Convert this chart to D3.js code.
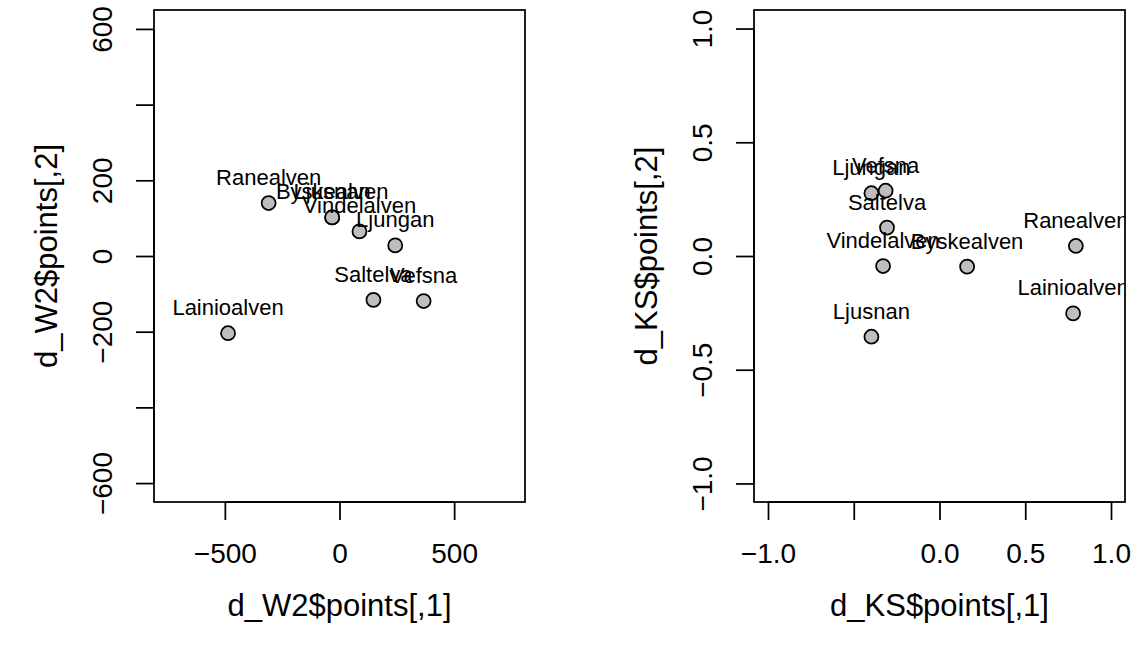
<!DOCTYPE html>
<html>
<head>
<meta charset="utf-8">
<script src="https://cdn.jsdelivr.net/npm/d3@7"></script>
<style>
  html, body { margin: 0; padding: 0; background: #fff; }
  svg { display: block; }
  text { font-family: "Liberation Sans", Arial, Helvetica, sans-serif; fill: #000; }
</style>
</head>
<body>
<svg id="chart" width="1144" height="655"></svg>
<script>
// ---- Data ----
const rivers = ["Ranealven", "Byskealven", "Ljusnan", "Vindelalven", "Ljungan", "Saltelva", "Vefsna", "Lainioalven"];
const w2X = [-309, -32, -32, 87, 243, 148, 367, -486];
const w2Y = [140, 102, 102, 65, 28, -116, -119, -204];
const ksX = [0.795, 0.161, -0.397, -0.329, -0.397, -0.306, -0.314, 0.779];
const ksY = [0.044, -0.047, -0.355, -0.044, 0.276, 0.125, 0.287, -0.252];

const w2XTicks = [-500, 0, 500];
const w2XTickLabels = ["\u2212500", "0", "500"];
const w2YTicks = [600, 400, 200, 0, -200, -400, -600];
const w2YTickLabels = ["600", "", "200", "0", "\u2212200", "", "\u2212600"];
const ksXTicks = [-1.0, -0.5, 0.0, 0.5, 1.0];
const ksXTickLabels = ["\u22121.0", "", "0.0", "0.5", "1.0"];
const ksYTicks = [1.0, 0.5, 0.0, -0.5, -1.0];
const ksYTickLabels = ["1.0", "0.5", "0.0", "\u22120.5", "\u22121.0"];

const svg = d3.select("#chart");

const LW = 1.75;
const TICK = 18;

function panel(opts) {
  const { left, right, top, bottom, xDom, yDom, xs, ys, names,
          xTicks, xTickLabels, yTicks, yTickLabels, xTitle, yTitle, id } = opts;
  const x = d3.scaleLinear().domain(xDom).range([left, right]);
  const y = d3.scaleLinear().domain(yDom).range([bottom, top]);
  const g = svg.append("g");

  svg.append("clipPath").attr("id", "clip" + id)
    .append("rect").attr("x", left).attr("y", top)
    .attr("width", right - left).attr("height", bottom - top);

  // x axis
  const xAxis = d3.axisBottom(x).tickValues(xTicks).tickSize(TICK)
    .tickFormat((d, i) => xTickLabels[i]);
  const gx = g.append("g").attr("transform", `translate(0,${bottom})`).call(xAxis);
  gx.select(".domain").attr("d", `M${x(xTicks[0])},0H${x(xTicks[xTicks.length - 1])}`)
    .attr("stroke", "#000").attr("stroke-width", LW).attr("fill", "none");
  gx.selectAll(".tick line").attr("stroke", "#000").attr("stroke-width", LW);
  gx.selectAll(".tick text").attr("y", 0).attr("dy", null)
    .attr("transform", "translate(0,61)")
    .style("font-size", "28px").style("font-family", "'Liberation Sans', Arial, sans-serif")
    .attr("fill", "#000");

  // y axis
  const yAxis = d3.axisLeft(y).tickValues(yTicks).tickSize(TICK)
    .tickFormat((d, i) => yTickLabels[i]);
  const gy = g.append("g").attr("transform", `translate(${left},0)`).call(yAxis);
  gy.select(".domain").attr("d", `M0,${y(yTicks[0])}V${y(yTicks[yTicks.length - 1])}`)
    .attr("stroke", "#000").attr("stroke-width", LW).attr("fill", "none");
  gy.selectAll(".tick line").attr("stroke", "#000").attr("stroke-width", LW);
  gy.selectAll(".tick text").attr("x", 0).attr("dy", null)
    .attr("text-anchor", "middle")
    .attr("transform", "translate(-42,0) rotate(-90)")
    .style("font-size", "28px").style("font-family", "'Liberation Sans', Arial, sans-serif")
    .attr("fill", "#000");

  // box
  g.append("rect").attr("x", left).attr("y", top)
    .attr("width", right - left).attr("height", bottom - top)
    .attr("fill", "none").attr("stroke", "#000").attr("stroke-width", LW);

  // titles
  g.append("text").attr("x", (left + right) / 2).attr("y", 616)
    .attr("text-anchor", "middle").style("font-size", "31px").text(xTitle);
  g.append("text").attr("transform", `translate(${left - 97},${(top + bottom) / 2}) rotate(-90)`)
    .attr("text-anchor", "middle").style("font-size", "31px").text(yTitle);

  // points
  const data = names.map((n, i) => ({ n, x: xs[i], y: ys[i] }));
  g.append("g").selectAll("circle").data(data).join("circle")
    .attr("cx", d => x(d.x)).attr("cy", d => y(d.y)).attr("r", 7)
    .attr("fill", "#BEBEBE").attr("stroke", "#000").attr("stroke-width", LW);

  // labels
  g.append("g").attr("clip-path", `url(#clip${id})`)
    .selectAll("text").data(data).join("text")
    .attr("x", d => x(d.x)).attr("y", d => y(d.y) - 18)
    .attr("text-anchor", "middle").style("font-size", "22px")
    .text(d => d.n);
}

panel({
  id: "a", left: 154, right: 525, top: 10, bottom: 502,
  xDom: [-809, 809], yDom: [-650, 650],
  xs: w2X, ys: w2Y, names: rivers,
  xTicks: w2XTicks, xTickLabels: w2XTickLabels,
  yTicks: w2YTicks, yTickLabels: w2YTickLabels,
  xTitle: "d_W2$points[,1]", yTitle: "d_W2$points[,2]"
});

panel({
  id: "b", left: 754, right: 1125, top: 10, bottom: 502,
  xDom: [-1.0816, 1.0816], yDom: [-1.0816, 1.0816],
  xs: ksX, ys: ksY, names: rivers,
  xTicks: ksXTicks, xTickLabels: ksXTickLabels,
  yTicks: ksYTicks, yTickLabels: ksYTickLabels,
  xTitle: "d_KS$points[,1]", yTitle: "d_KS$points[,2]"
});
</script>
</body>
</html>
